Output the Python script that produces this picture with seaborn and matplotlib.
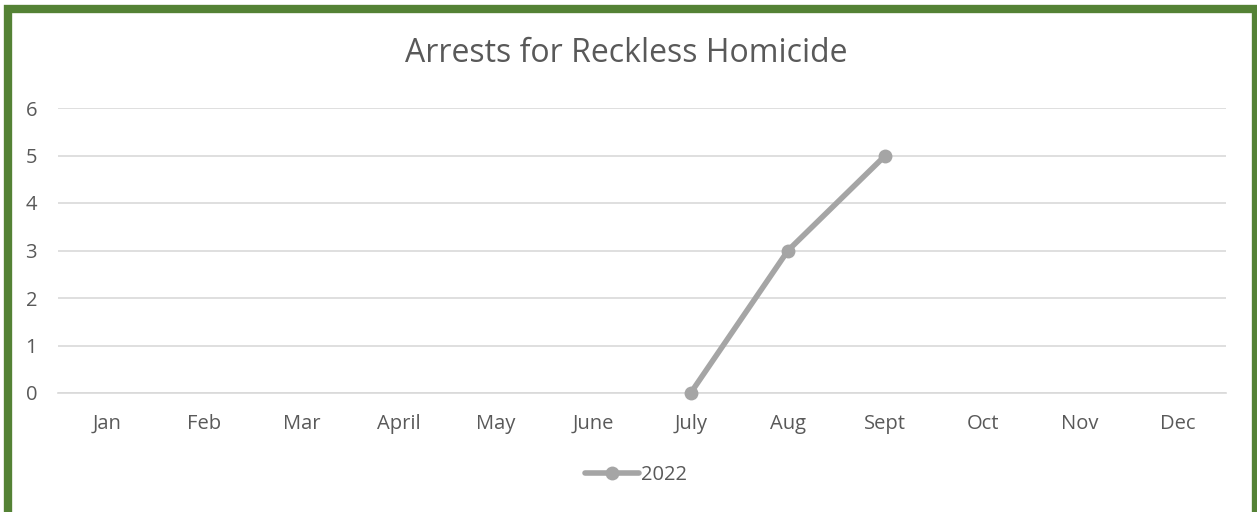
import numpy as np
import pandas as pd
import matplotlib
matplotlib.use("Agg")
import matplotlib.pyplot as plt
import seaborn as sns
from matplotlib.patches import Rectangle

months = ["Jan", "Feb", "Mar", "April", "May", "June", "July", "Aug", "Sept", "Oct", "Nov", "Dec"]
values_2022 = [np.nan, np.nan, np.nan, np.nan, np.nan, np.nan, 0, 3, 5, np.nan, np.nan, np.nan]
y_ticks = [0, 1, 2, 3, 4, 5, 6]
title = "Arrests for Reckless Homicide"
series_name = "2022"

sns.set_theme(style="white")
plt.rcParams['font.family'] = ['Open Sans', 'DejaVu Sans']

df = pd.DataFrame({"pos": np.arange(len(months)), "value": values_2022, "series": series_name})
df = df.dropna()

fig = plt.figure(figsize=(12.57, 5.12), dpi=100)
ax = fig.add_axes([58/1257, 1 - 393/512, (1226-58)/1257, (393-108)/512])

grey = "#A5A5A5"
sns.lineplot(data=df, x="pos", y="value", hue="series", palette=[grey], ax=ax,
             linewidth=4, marker="o", markersize=10, markeredgewidth=0, zorder=3)
for ln in ax.lines:
    ln.set_clip_on(False)

ax.set_xlim(-0.5, len(months) - 0.5)
ax.set_ylim(0, 6)
ax.set_xticks(np.arange(len(months)))
ax.set_xticklabels(months)
ax.set_yticks(y_ticks)
ax.set_yticklabels([str(t) for t in y_ticks])
ax.tick_params(axis='both', colors="#595959", labelsize=14.5, length=0)
ax.tick_params(axis='x', pad=15)
ax.tick_params(axis='y', pad=15)
ax.set_xlabel("")
ax.set_ylabel("")
ax.grid(axis='y', color="#D9D9D9", linewidth=1.2)
ax.grid(axis='x', visible=False)
for s in ax.spines.values():
    s.set_visible(False)
ax.spines['bottom'].set_visible(True)
ax.spines['bottom'].set_color("#D9D9D9")
ax.spines['bottom'].set_linewidth(1.2)
ax.spines['bottom'].set_zorder(1)

fig.text(626/1257, 1 - 53/512, title, ha='center', va='center', fontsize=23, color="#595959")

leg = ax.legend(loc='center', bbox_to_anchor=(0.495, 1 - (475-108)/(393-108)), bbox_transform=ax.transAxes,
                frameon=False, fontsize=14.5, handlelength=2.7, handletextpad=0.1)
for t in leg.get_texts():
    t.set_color("#595959")

fig.patches.append(Rectangle((8/1257, -0.02), (1256 - 8)/1257, 1 - 9/512 + 0.02, transform=fig.transFigure,
                             fill=False, edgecolor="#548235", linewidth=6, zorder=10))

fig.savefig("out.png", dpi=100, facecolor="white")
